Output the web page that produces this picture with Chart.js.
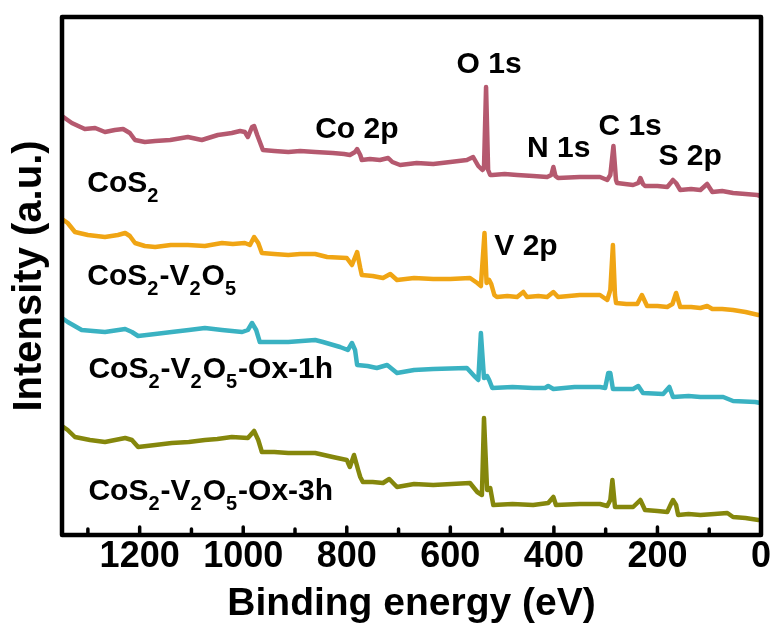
<!DOCTYPE html>
<html>
<head>
<meta charset="utf-8">
<script src="https://cdn.jsdelivr.net/npm/chart.js@4"></script>
<style>
  html, body { margin: 0; padding: 0; background: #ffffff; }
  #xps { display: block; }
</style>
</head>
<body>
<canvas id="xps" width="775" height="632"></canvas>
<script>
/* ============================================================
   XPS survey spectra — stacked, binding energy reversed
   ============================================================ */

// ── Data (binding energy in eV, intensity in a.u. with stack offset) ──

const xTickValues = [0, 100, 200, 300, 400, 500, 600, 700, 800, 900, 1000, 1100, 1200, 1300];

const cos2Energy = [1350,1342,1331,1306,1286,1267,1248,1232,1219,1209,1190,1170,1141,1107,1080,1049,1035,1022,1006,997,991,983,979,973,962,940,913,890,861,827,805,794,784,780,774,771,755,736,720,712,697,665,633,600,568,556,546,538,535,531,527,523,519,495,471,440,413,405,401,397,392,350,311,297,291,285,280,278,247,237,233,228,224,200,181,173,170,164,156,135,117,104,94,75,54,30,7,1];
const cos2Counts = [419,416,412,406,407,403,405,406,402,395,393,394,395,398,395,400,401,402,404,403,398,408,409,400,385,384,383,384,383,382,381,380,383,386,380,375,376,375,377,373,370,372,371,373,375,378,369,365,367,448,365,360,360,361,360,359,358,360,368,359,357,358,358,355,360,389,355,352,350,352,357,351,349,349,348,353,355,352,345,346,345,351,343,344,342,341,340,339];

const v2o5Energy = [1350,1339,1325,1300,1267,1242,1228,1219,1209,1190,1170,1140,1107,1074,1041,1020,997,987,979,971,964,940,913,890,861,838,800,790,780,774,771,750,730,716,703,670,633,600,562,548,541,534,530,525,521,515,510,490,471,459,452,430,413,401,392,350,311,297,291,286,282,280,260,239,230,220,200,181,171,164,156,135,117,104,94,75,54,30,5];
const v2o5Counts = [316,312,303,300,298,300,302,299,292,289,288,290,290,289,292,291,292,290,298,292,282,281,280,281,281,278,277,270,283,267,260,259,257,261,255,257,256,256,257,252,249,302,252,255,251,240,238,239,238,243,238,239,238,243,238,240,240,235,245,290,240,232,231,231,240,229,229,228,231,242,228,228,227,229,226,226,225,223,220];

const ox1hEnergy = [1350,1339,1312,1290,1267,1228,1215,1203,1170,1138,1105,1074,1041,1002,991,983,975,968,940,913,861,846,813,798,790,784,780,760,742,722,703,670,633,568,552,546,541,535,529,525,519,480,440,417,411,401,360,311,301,295,291,286,247,237,228,189,177,170,140,117,73,54,11,1];
const ox1hCounts = [217,213,205,204,203,206,203,199,201,203,205,207,205,203,205,212,205,193,193,193,195,193,188,185,192,185,170,169,167,170,162,165,166,167,158,155,202,157,159,155,147,148,147,147,149,146,148,148,147,162,162,146,146,149,142,141,148,138,139,138,138,134,133,132];

const ox3hEnergy = [1350,1339,1325,1296,1267,1228,1215,1203,1170,1138,1105,1074,1050,1022,991,979,971,964,940,913,861,827,800,794,786,778,774,769,750,730,718,703,670,633,562,548,539,535,529,523,517,480,440,411,401,396,350,311,297,291,287,282,247,233,224,200,181,173,170,164,160,140,117,90,65,54,30,5];
const ox3hCounts = [109,105,98,95,93,97,95,88,90,92,93,95,96,98,97,104,95,83,83,82,82,78,75,68,80,65,58,53,53,52,56,48,51,50,52,43,40,117,45,47,30,31,30,32,38,30,31,31,29,35,55,28,28,35,25,24,23,32,35,30,20,21,20,21,22,18,17,15];

// sample names: [text, isSubscript]
const cos2Name = [["CoS", 0], ["2", 1]];
const v2o5Name = [["CoS", 0], ["2", 1], ["-V", 0], ["2", 1], ["O", 0], ["5", 1]];
const ox1hName = [["CoS", 0], ["2", 1], ["-V", 0], ["2", 1], ["O", 0], ["5", 1], ["-Ox-1h", 0]];
const ox3hName = [["CoS", 0], ["2", 1], ["-V", 0], ["2", 1], ["O", 0], ["5", 1], ["-Ox-3h", 0]];

// peak tags and sample names, anchored in data space (left edge, baseline)
const annotations = [
  { parts: [["O 1s", 0]],  e: 588,  i: 462 },
  { parts: [["Co 2p", 0]], e: 861,  i: 397 },
  { parts: [["N 1s", 0]],  e: 452,  i: 378 },
  { parts: [["C 1s", 0]],  e: 314,  i: 400 },
  { parts: [["S 2p", 0]],  e: 198,  i: 370 },
  { parts: [["V 2p", 0]],  e: 515,  i: 280 },
  { parts: cos2Name, e: 1301, i: 343 },
  { parts: v2o5Name, e: 1301, i: 250 },
  { parts: ox1hName, e: 1299, i: 157 },
  { parts: ox3hName, e: 1299, i: 35 },
];

const FONT = "'Liberation Sans', Arial, sans-serif";

// ── Helpers ─────────────────────────────────────────────────

function toPoints(energy, counts) {
  return energy.map((e, k) => ({ x: e, y: counts[k] }));
}

function spectrum(label, energy, counts, color) {
  return {
    label,
    data: toPoints(energy, counts),
    borderColor: color,
    backgroundColor: color,
    borderWidth: 4.5,
    borderJoinStyle: "round",
    borderCapStyle: "round",
    pointRadius: 0,
    tension: 0,
  };
}

// ── Plugins ─────────────────────────────────────────────────

const framePlugin = {
  id: "frame",
  afterDraw(chart) {
    const { ctx, chartArea: a } = chart;
    const xs = chart.scales.x;
    ctx.save();
    ctx.strokeStyle = "#000";
    ctx.lineJoin = "round";
    ctx.lineWidth = 4.5;
    ctx.strokeRect(a.left, a.top, a.right - a.left, a.bottom - a.top);
    ctx.lineCap = "round";
    ctx.lineWidth = 3.5;
    xTickValues.forEach(v => {
      const px = xs.getPixelForValue(v);
      const len = v % 200 === 0 ? 8 : 6;
      ctx.beginPath();
      ctx.moveTo(px, a.bottom);
      ctx.lineTo(px, a.bottom - len);
      ctx.stroke();
    });
    ctx.restore();
  },
};

const labelPlugin = {
  id: "labels",
  afterDatasetsDraw(chart) {
    const { ctx } = chart;
    const xs = chart.scales.x, ys = chart.scales.y;
    ctx.save();
    ctx.fillStyle = "#000";
    ctx.textBaseline = "alphabetic";
    ctx.textAlign = "left";
    annotations.forEach(a => {
      let x = xs.getPixelForValue(a.e);
      const y = ys.getPixelForValue(a.i);
      a.parts.forEach(([txt, sub]) => {
        ctx.font = sub ? `bold 20px ${FONT}` : `bold 30px ${FONT}`;
        ctx.fillText(txt, x, sub ? y + 10 : y);
        x += ctx.measureText(txt).width + (sub ? 1 : 0);
      });
    });
    ctx.restore();
  },
};

// ── Chart ───────────────────────────────────────────────────

new Chart(document.getElementById("xps"), {
  type: "line",
  data: {
    datasets: [
      spectrum("CoS2", cos2Energy, cos2Counts, "#b5596f"),
      spectrum("CoS2-V2O5", v2o5Energy, v2o5Counts, "#f0a514"),
      spectrum("CoS2-V2O5-Ox-1h", ox1hEnergy, ox1hCounts, "#3ab2c2"),
      spectrum("CoS2-V2O5-Ox-3h", ox3hEnergy, ox3hCounts, "#85870c"),
    ],
  },
  options: {
    responsive: false,
    animation: false,
    devicePixelRatio: 1,
    layout: { padding: { top: 17, right: 14, left: 0, bottom: 0 } },
    plugins: { legend: { display: false }, tooltip: { enabled: false } },
    scales: {
      x: {
        type: "linear",
        reverse: true,
        min: 0,
        max: 1350,
        afterFit: s => { s.height = 97; },
        afterBuildTicks: s => { s.ticks = xTickValues.map(v => ({ value: v })); },
        grid: { display: false, drawTicks: false },
        border: { display: false },
        ticks: {
          autoSkip: false,
          maxRotation: 0,
          padding: 0,
          color: "#000",
          font: { family: FONT, size: 36, weight: "bold" },
          callback: v => (v % 200 === 0 ? String(v) : ""),
        },
        title: {
          display: true,
          text: "Binding energy (eV)",
          color: "#000",
          padding: { top: 0, bottom: 4 },
          font: { family: FONT, size: 39, weight: "bold" },
        },
      },
      y: {
        min: 0,
        max: 518,
        afterFit: s => { s.width = 62; },
        grid: { display: false },
        border: { display: false },
        ticks: { display: false },
        title: {
          display: true,
          text: "Intensity (a.u.)",
          color: "#000",
          padding: { top: 6, bottom: 0 },
          font: { family: FONT, size: 40, weight: "bold" },
        },
      },
    },
  },
  plugins: [framePlugin, labelPlugin],
});
</script>
</body>
</html>
